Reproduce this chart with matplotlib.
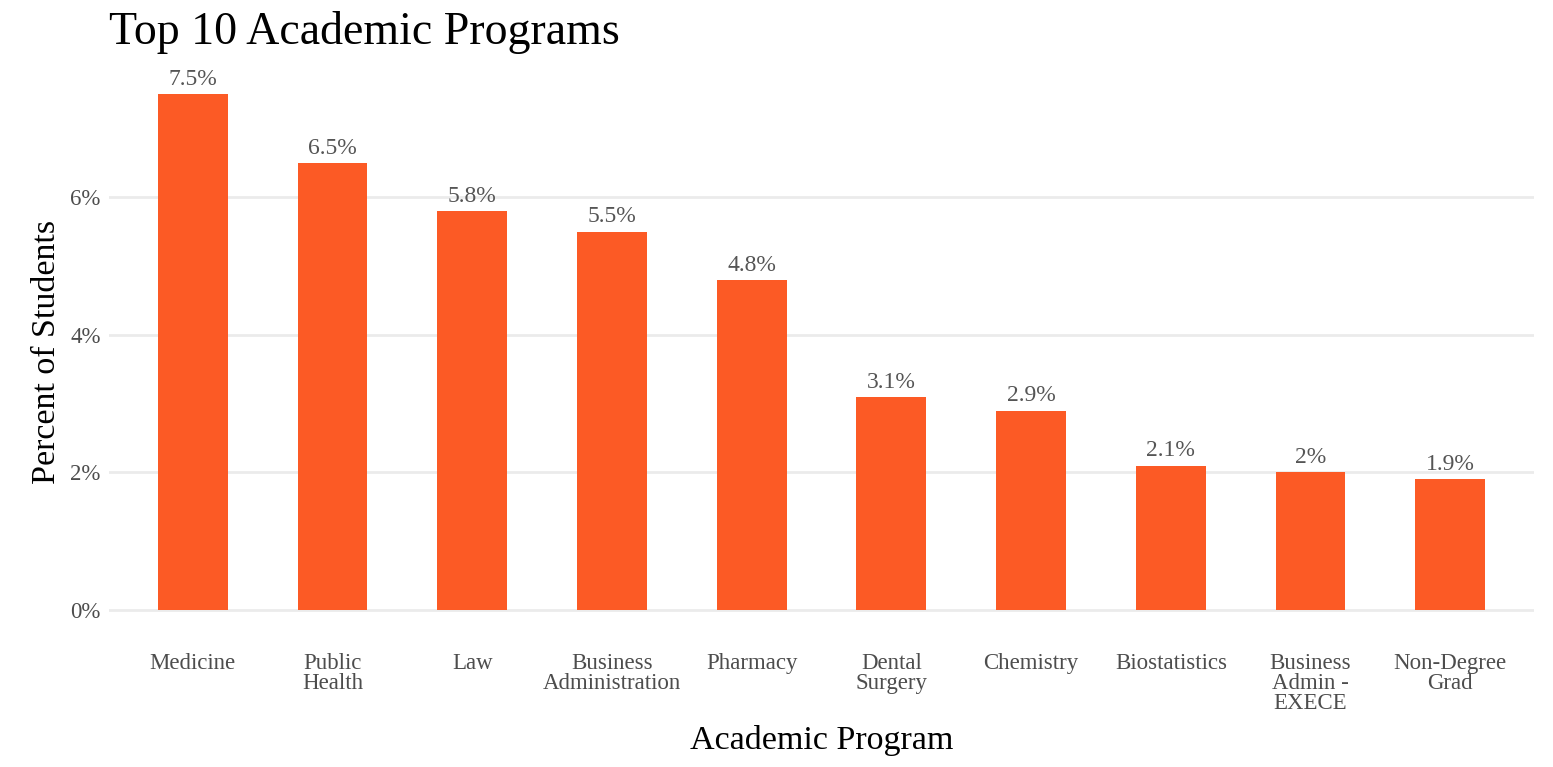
import matplotlib
matplotlib.use("Agg")
import matplotlib.pyplot as plt
from matplotlib.ticker import FuncFormatter

programs = [
    "Medicine", "Public\nHealth", "Law", "Business\nAdministration", "Pharmacy",
    "Dental\nSurgery", "Chemistry", "Biostatistics", "Business\nAdmin -\nEXECE",
    "Non-Degree\nGrad",
]
percent = [7.5, 6.5, 5.8, 5.5, 4.8, 3.1, 2.9, 2.1, 2.0, 1.9]
value_labels = ["7.5%", "6.5%", "5.8%", "5.5%", "4.8%", "3.1%", "2.9%", "2.1%", "2%", "1.9%"]
y_ticks = [0, 2, 4, 6]

plt.rcParams["font.family"] = ["Liberation Serif", "DejaVu Serif"]

BAR = "#FC5A25"
GRID = "#EBEBEB"
TICK = "#4D4D4D"

fig = plt.figure(figsize=(15.53, 7.67), dpi=100)
ax = fig.add_axes([0.0702, 0.1708, 0.9176, 0.7405])

x = list(range(1, len(programs) + 1))
ax.bar(x, percent, width=0.5, color=BAR, zorder=2)

for xi, v, lab in zip(x, percent, value_labels):
    ax.annotate(lab, (xi, v), xytext=(0, 3), textcoords="offset points",
                ha="center", va="bottom", fontsize=17, color="#555555")

ax.set_xlim(0.4, len(programs) + 0.6)
ax.set_ylim(-0.375, 7.875)
ax.set_yticks(y_ticks)
ax.yaxis.set_major_formatter(FuncFormatter(lambda v, p: f"{v:g}%"))
ax.set_xticks(x)
ax.set_xticklabels(programs, linespacing=0.95)

ax.grid(axis="y", color=GRID, linewidth=2, zorder=0)
ax.grid(axis="x", visible=False)
for s in ax.spines.values():
    s.set_visible(False)
ax.tick_params(axis="both", length=0, labelsize=16.5, colors=TICK)
ax.tick_params(axis="x", pad=12)
ax.tick_params(axis="y", pad=6)

ax.set_xlabel("Academic Program", fontsize=24.5, color="black", labelpad=8)
ax.set_ylabel("Percent of Students", fontsize=24.5, color="black", labelpad=6)
fig.text(0.0702, 0.942, "Top 10 Academic Programs", fontsize=33, color="black",
         ha="left", va="baseline")

fig.savefig("out.png", dpi=100, facecolor="white")
